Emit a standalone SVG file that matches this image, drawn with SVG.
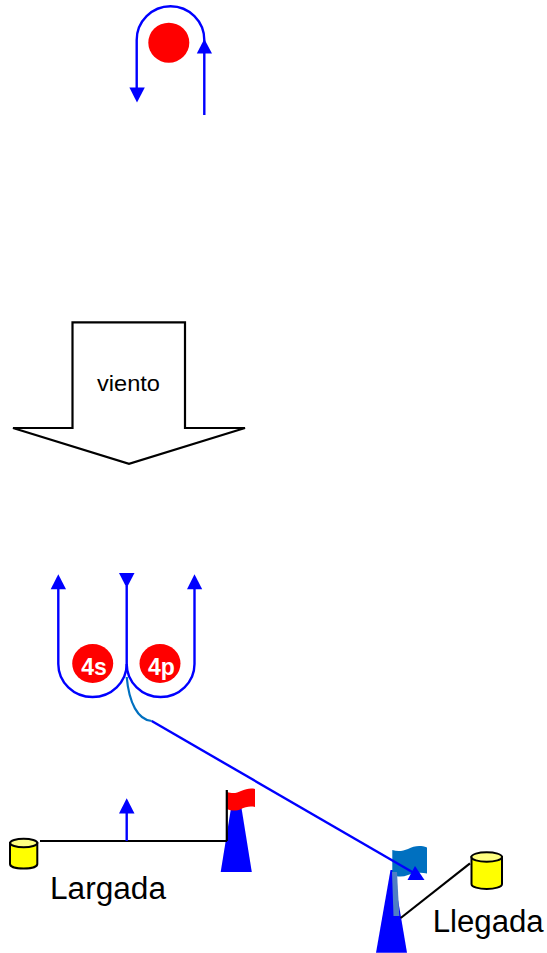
<svg xmlns="http://www.w3.org/2000/svg" width="547" height="953" viewBox="0 0 547 953">
<style>
.t{font-family:"Liberation Sans",Arial,sans-serif;fill:#000}
.b{fill:none;stroke:#0000ff;stroke-width:2.4}
.k{fill:none;stroke:#000;stroke-width:2.2}
.h{fill:#0000ff;stroke:none}
.buoy{fill:#ff0000;stroke:none}
.n{font-family:"Liberation Sans",Arial,sans-serif;font-weight:bold;font-size:23px;fill:#fff;text-anchor:middle}
.cyl{fill:#ffff00;stroke:#000;stroke-width:2}
.cyt{fill:#ffff80;stroke:#000;stroke-width:2}
</style>
<rect width="547" height="953" fill="#fff"/>
<g id="mark-top"><ellipse class="buoy" cx="168.800" cy="42.700" rx="20.500" ry="20"/></g>
<g id="wind">
<polygon points="72.500,322.300 185,322.300 185,428 245,428 129,463.800 13,428 72.500,428" fill="#fff" stroke="#000" stroke-width="2.200"/>
<text class="t" x="97" y="391" font-size="21.500" textLength="63" lengthAdjust="spacingAndGlyphs">viento</text>
</g>
<g id="mark-4s"><ellipse class="buoy" cx="92.700" cy="663.500" rx="20.500" ry="19.500"/><text class="n" x="94" y="675">4s</text></g>
<g id="mark-4p"><ellipse class="buoy" cx="160" cy="663.500" rx="20.500" ry="19.500"/><text class="n" x="161.500" y="675">4p</text></g>
<g id="start-boat">
<polygon class="h" points="231.500,805 241,805 251.800,872 220.700,872"/>
<path d="M227,792C233,794 237,793 241,791C246,789 250,788 255,789L255,807C250,806 245,807 241,809C237,811 232,811 227,809Z" fill="#ff0000"/>
</g>
<g id="start-buoy">
<path class="cyl" d="M10,843V864C10,870 37.300,870 37.300,864V843Z"/>
<ellipse class="cyt" cx="23.700" cy="843" rx="13.600" ry="4.200"/>
</g>
<g id="finish-boat">
<polygon class="h" points="390.500,870 393,870 407,952.700 376,952.700"/>
<path d="M392.300,850C398,852 403,851 408,849C414,846 420,845 427,847.500L427,873.500C420,872 414,873 408,875C403,877 398,877 392.300,875Z" fill="#0070c0"/>
<polygon points="392,872 397,872 399.300,916 393.500,916" fill="#4f7ec4"/>
</g>
<g id="finish-buoy">
<path class="cyl" d="M471.500,857V884C471.500,890.500 502,890.500 502,884V857Z"/>
<ellipse class="cyt" cx="486.700" cy="857" rx="15.300" ry="4.800"/>
</g>
<g id="connectors">
<path class="b" d="M204.300,115V40A33.800,33.800 0 0 0 136.700,40V90"/>
<polygon class="h" points="204.300,39 212,53.500 196.800,53.500"/>
<polygon class="h" points="137,102.500 129.400,87.500 144.800,87.500"/>
<path class="b" d="M58.300,588V664A34.200,33 0 0 0 126.700,664V586"/>
<path class="b" d="M126.700,664A33.900,33 0 0 0 194.500,664V588"/>
<polygon class="h" points="58.300,574.300 66,589.300 50.700,589.300"/>
<polygon class="h" points="126.700,588 119,573 134.500,573"/>
<polygon class="h" points="194.500,574.300 202.200,589.300 187,589.300"/>
<path d="M126.700,677C129,703 138,720 151.700,721" fill="none" stroke="#0070c0" stroke-width="2.200"/>
<path class="b" d="M151.700,721L414,873"/>
<polygon class="h" points="424.500,880 407.500,880 415,866"/>
<path class="k" d="M40,841H227M226.800,790V841"/>
<path class="b" d="M126.700,841V812"/>
<polygon class="h" points="126.700,798.300 134.500,813.500 119,813.500"/>
<path class="k" d="M400.700,918L470,863.300"/>
</g>
<text class="t" x="50" y="899" font-size="31" textLength="116" lengthAdjust="spacingAndGlyphs">Largada</text>
<text class="t" x="432.700" y="932" font-size="31" textLength="111" lengthAdjust="spacingAndGlyphs">Llegada</text>
</svg>
